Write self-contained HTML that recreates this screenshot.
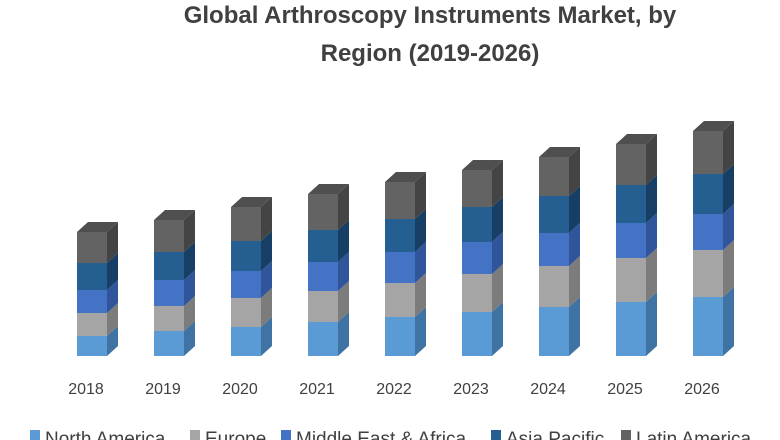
<!DOCTYPE html>
<html><head><meta charset="utf-8"><style>
html,body{margin:0;padding:0;background:#fff;width:780px;height:440px;overflow:hidden;font-family:"Liberation Sans",sans-serif}
</style></head><body>
<svg id="chart" width="780" height="440" xmlns="http://www.w3.org/2000/svg">
<text x="430" y="23" text-anchor="middle" font-size="24" font-weight="bold" fill="#404040">Global Arthroscopy Instruments Market, by</text>
<text x="430" y="61" text-anchor="middle" font-size="24" font-weight="bold" fill="#404040">Region (2019-2026)</text>
<g id="bars"></g>
<g id="legend"></g>
</svg>
<script>
const categories=["2018","2019","2020","2021","2022","2023","2024","2025","2026"];
const seriesNames=["North America","Europe","Middle East & Africa","Asia Pacific","Latin America"];
const northAmerica=[20,25,29,34,39,44,49,54,59];
const europe=[23,25,29,31,34,38,41,44,47];
const middleEast=[23,26,27,29,31,32,33,35,36];
const asiaPacific=[27,28,30,32,33,35,37,38,40];
const latinAmerica=[31,32,34,36,37,37,39,41,43];
const series=[northAmerica,europe,middleEast,asiaPacific,latinAmerica];
const front=["#5b9bd5","#a5a5a5","#4472c4","#255e91","#636363"];
const side=["#3f73a3","#7c7c7c","#30559a","#173f66","#444444"];
const top_=["#4a86bf","#8f8f8f","#3a62ad","#1d4c78","#4f4f4f"];
const NS="http://www.w3.org/2000/svg";
const baseY=356, x0=77, step=77, bw=30, dx=11, dy=10;
const yScale=v=>v*1.0;
const xPos=i=>x0+i*step;
const g=document.getElementById('bars');
function mk(t,a){const e=document.createElementNS(NS,t);for(const k in a)e.setAttribute(k,a[k]);return e;}
categories.forEach((c,i)=>{
  const x=xPos(i);let y=baseY;
  series.forEach((s,j)=>{
    const h=yScale(s[i]);const yt=y-h;
    const f=mk('rect',{x:x,y:yt,width:bw,height:h,fill:front[j]});
    
    
    g.appendChild(f);
    const sd=mk('polygon',{points:`${x+bw},${y} ${x+bw+dx},${y-dy} ${x+bw+dx},${yt-dy} ${x+bw},${yt}`,fill:side[j]});
    
    
    g.appendChild(sd);
    if(j===series.length-1){
      const tp=mk('polygon',{points:`${x},${yt} ${x+dx},${yt-dy} ${x+bw+dx},${yt-dy} ${x+bw},${yt}`,fill:top_[j]});
      
      
      g.appendChild(tp);
    }
    y=yt;
  });
  const t=mk('text',{x:x+9,y:394,'text-anchor':'middle','font-size':16,fill:'#404040'});
  t.textContent=c;
  
  
  g.appendChild(t);
});
const lg=document.getElementById('legend');
const legX=[30,190,281,491,621];
seriesNames.forEach((n,j)=>{
  const lx=legX[j];
  const r=mk('rect',{x:lx,y:430,width:10,height:10,fill:front[j]});
  
  
  lg.appendChild(r);
  const t=mk('text',{x:lx+15,y:445,'font-size':19,fill:'#404040'});
  t.textContent=n;
  
  
  lg.appendChild(t);
});
</script>
</body></html>
